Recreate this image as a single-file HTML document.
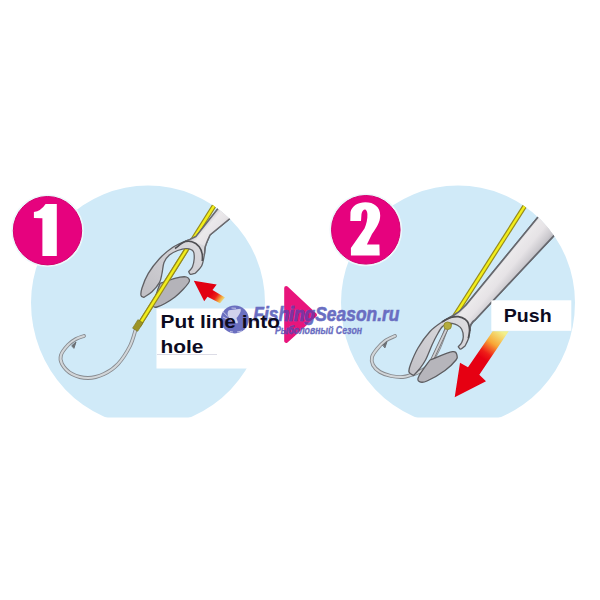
<!DOCTYPE html>
<html><head><meta charset="utf-8">
<style>
html,body{margin:0;padding:0;background:#fff;width:600px;height:600px;overflow:hidden}
svg{display:block}
text{font-family:"Liberation Sans",sans-serif}
</style></head>
<body>
<svg width="600" height="600" viewBox="0 0 600 600">
<defs>
  <clipPath id="c1"><path d="M31 302.5 A117 117 0 0 1 265 302.5 A117 123 0 0 1 31 302.5 Z"/></clipPath>
  <clipPath id="bot"><rect x="0" y="0" width="600" height="417.6"/></clipPath>
  <clipPath id="tri2"><path d="M284.2 286 L317.5 315 L284.2 344 Z"/></clipPath>
  <clipPath id="c2"><path d="M341 302.5 A117 117 0 0 1 575 302.5 A117 123 0 0 1 341 302.5 Z"/></clipPath>
  <linearGradient id="arr1" x1="224" y1="302" x2="212" y2="293" gradientUnits="userSpaceOnUse">
    <stop offset="0" stop-color="#e2f0a0" stop-opacity="0.7"/>
    <stop offset="0.3" stop-color="#f5b040"/>
    <stop offset="0.65" stop-color="#ec2018"/>
    <stop offset="1" stop-color="#e20012"/>
  </linearGradient>
  <linearGradient id="arr2" x1="501" y1="331" x2="482" y2="358" gradientUnits="userSpaceOnUse">
    <stop offset="0" stop-color="#f2f08c"/>
    <stop offset="0.45" stop-color="#f8a735"/>
    <stop offset="0.8" stop-color="#ee1e18"/>
    <stop offset="1" stop-color="#e60012"/>
  </linearGradient>
  <linearGradient id="shaft1" x1="212" y1="214" x2="232" y2="231" gradientUnits="userSpaceOnUse">
    <stop offset="0" stop-color="#c8c6cc"/>
    <stop offset="0.2" stop-color="#ebe9eb"/>
    <stop offset="0.5" stop-color="#e6e3e6"/>
    <stop offset="0.8" stop-color="#cbc9ce"/>
    <stop offset="1" stop-color="#a8a8ae"/>
  </linearGradient>
  <linearGradient id="shaft2" x1="493" y1="266" x2="516" y2="285" gradientUnits="userSpaceOnUse">
    <stop offset="0" stop-color="#c8c6cc"/>
    <stop offset="0.2" stop-color="#ebe9eb"/>
    <stop offset="0.5" stop-color="#e6e3e6"/>
    <stop offset="0.8" stop-color="#cbc9ce"/>
    <stop offset="1" stop-color="#a8a8ae"/>
  </linearGradient>
  <linearGradient id="head1" x1="195" y1="245" x2="150" y2="295" gradientUnits="userSpaceOnUse">
    <stop offset="0" stop-color="#d9d8dc"/>
    <stop offset="1" stop-color="#c2c1c6"/>
  </linearGradient>
  <linearGradient id="head2" x1="462" y1="320" x2="412" y2="372" gradientUnits="userSpaceOnUse">
    <stop offset="0" stop-color="#dcdbdf"/>
    <stop offset="1" stop-color="#c4c3c8"/>
  </linearGradient>
</defs>

<!-- big circles -->
<g clip-path="url(#bot)">
<path d="M31 302.5 A117 117 0 0 1 265 302.5 A117 123 0 0 1 31 302.5 Z" fill="#d0eaf8"/>
<path d="M341 302.5 A117 117 0 0 1 575 302.5 A117 123 0 0 1 341 302.5 Z" fill="#d0eaf8"/>
</g>

<!-- badges -->
<circle cx="47.5" cy="230.7" r="36.3" fill="#eef7fb"/>
<circle cx="47.5" cy="230.7" r="34.2" fill="#e6027e" stroke="#d4006f" stroke-width="1"/>
<path d="M45.6 204 L56.8 204 L56.8 256.1 L42.4 256.1 L42.4 218.3 L33.9 218 L33.9 212 Q41 211 45.6 204 Z" fill="#fff"/>
<circle cx="365.8" cy="229.8" r="36.4" fill="#eef7fb"/>
<circle cx="365.8" cy="229.8" r="34.3" fill="#e6027e" stroke="#d4006f" stroke-width="1"/>
<path d="M350.3 220.9 L350.5 212 C352 206 358 202.3 365.3 202.3 C374 202.3 380.2 207 380.2 215.5 C380.2 222 377 227 372 234 L366.9 244.6 L379.4 244.6 L379.7 255.6 L350.9 255.6 L350.9 248 L364.5 228.5 C366.5 224 367.6 219 367.4 214 C367.2 211 366 209.5 365 209.5 C363.5 209.5 362 211 361.5 214 L361 220.9 Z" fill="#fff"/>

<!-- pink arrow between -->
<path d="M286.2 288 L315 315 L286.2 341 Z" fill="#e8157c" stroke="#e8157c" stroke-width="4" stroke-linejoin="round"/>

<!-- ===== Circle 1 scene ===== -->
<g clip-path="url(#c1)">
<!-- hook 1 -->
<g fill="none" stroke-linecap="round" stroke-linejoin="round">
<path id="h1" d="M135.5 330.0 C134.6 332.7 132.9 340.3 130.0 346.0 C127.1 351.7 122.3 359.3 118.0 364.0 C113.7 368.7 109.0 371.7 104.0 374.0 C99.0 376.3 93.3 378.0 88.0 378.0 C82.7 378.0 76.3 376.3 72.0 374.0 C67.7 371.7 63.8 367.2 62.0 364.0 C60.2 360.8 60.0 358.2 61.0 355.0 C62.0 351.8 65.5 347.7 68.0 345.0 C70.5 342.3 73.3 340.5 76.0 339.0 C78.7 337.5 82.7 336.5 84.0 336.0" stroke="#878b90" stroke-width="3.8"/>
<path d="M135.5 330.0 C134.6 332.7 132.9 340.3 130.0 346.0 C127.1 351.7 122.3 359.3 118.0 364.0 C113.7 368.7 109.0 371.7 104.0 374.0 C99.0 376.3 93.3 378.0 88.0 378.0 C82.7 378.0 76.3 376.3 72.0 374.0 C67.7 371.7 63.8 367.2 62.0 364.0 C60.2 360.8 60.0 358.2 61.0 355.0 C62.0 351.8 65.5 347.7 68.0 345.0 C70.5 342.3 73.3 340.5 76.0 339.0 C78.7 337.5 82.7 336.5 84.0 336.0" stroke="#d2d6d9" stroke-width="2"/>
<path d="M72 345.5 L76 342 L74 348 Z" fill="#6a6e72" stroke="#6a6e72" stroke-width="1"/>
</g>
<!-- line 1 -->
<line x1="224" y1="190" x2="138.5" y2="326" stroke="#968a1c" stroke-width="4.8"/>
<line x1="224" y1="190" x2="138.5" y2="326" stroke="#f2ee1a" stroke-width="2.4"/>
<!-- tool 1 body -->
<path d="M230.3 193.0 C224.6 200.3 201.6 229.4 195.8 236.7 L195.8 236.7 C194.8 237.2 191.8 238.7 190.0 239.5 C188.2 240.3 188.0 239.9 185.0 241.3 C182.0 242.7 176.5 244.8 172.2 247.7 C167.9 250.6 163.4 254.4 159.4 258.7 C155.4 263.0 151.2 268.5 148.3 273.4 C145.4 278.3 143.2 284.3 142.0 288.0 C140.8 291.7 140.7 293.8 141.0 295.4 C141.3 297.0 143.3 297.1 143.8 297.4 L143.8 297.4 C145.2 296.4 149.4 294.2 152.0 291.7 C154.6 289.2 157.7 285.7 159.4 282.6 C161.1 279.6 161.2 276.8 162.0 273.4 C162.8 270.0 162.8 265.5 164.0 262.4 C165.2 259.3 167.1 257.0 169.4 255.0 C171.7 253.0 174.8 251.6 177.7 250.5 C180.6 249.4 184.3 248.4 186.9 248.6 C189.5 248.8 192.1 249.7 193.3 251.4 C194.5 253.1 194.3 256.1 194.2 258.7 C194.0 261.3 193.3 264.9 192.4 267.0 C191.5 269.1 189.3 270.8 188.7 271.6 L188.7 271.6 C189.0 272.1 189.4 274.0 190.5 274.3 C191.6 274.6 194.2 273.5 195.0 273.4 L195.0 273.4 C196.1 272.2 200.0 269.1 201.6 266.0 C203.2 262.9 203.7 258.3 204.3 255.0 C205.0 251.7 204.6 249.3 205.5 246.0 C206.4 242.7 209.2 236.8 210.0 235.0 L210.0 235.0 C217.1 229.2 245.4 205.8 252.5 200.0 Z"
 fill="url(#head1)" stroke="#606064" stroke-width="1.3" stroke-linejoin="round"/>
<path d="M230.3 193 L195.8 236.7 C192 238.8 188 240.3 185.5 241.3 C191 241.3 196 242.5 205.6 246 C206.4 242.7 209.2 236.8 210 235 L252.5 200 Z" fill="url(#shaft1)"/>
<path d="M230.3 193 L195.8 236.7 C193 238.2 189 240 185 241.3 M252.5 200 L210 235 C209.2 236.8 206.4 242.7 205.5 246 C204.6 249.3 205 251.7 204.3 255" fill="none" stroke="#6a6a6f" stroke-width="1.4"/>
<path d="M175 248.5 C178.5 246 182 242.5 185.5 241.6 C188 241 190 241 192 241.8 C195 242.6 197.2 244.3 199.2 246.7 C200.8 248.8 201.8 251.3 202.2 254 C202.5 256.5 202.5 259 202.2 261" fill="none" stroke="#4e4e52" stroke-width="1.6"/>
<!-- lower prong 1 -->
<path d="M160.0 283.5 C161.7 282.9 166.7 281.1 170.0 280.0 C173.3 278.9 177.2 277.7 180.0 277.2 C182.8 276.7 184.9 276.5 186.5 277.0 C188.1 277.5 189.2 279.0 189.5 280.0 C189.8 281.0 189.6 281.4 188.5 283.0 C187.4 284.6 185.2 287.2 183.0 289.5 C180.8 291.8 178.0 294.7 175.0 297.0 C172.0 299.3 168.0 301.8 165.0 303.5 C162.0 305.2 158.9 306.5 157.0 307.0 C155.1 307.5 154.0 307.3 153.5 306.5 C153.0 305.7 153.4 304.4 154.0 302.0 C154.6 299.6 156.0 295.1 157.0 292.0 C158.0 288.9 159.5 284.9 160.0 283.5 Z"
 fill="#b4b3b9" stroke="#5c5c60" stroke-width="1.3" stroke-linejoin="round"/>
<line x1="186.4" y1="249.8" x2="138.5" y2="326" stroke="#968a1c" stroke-width="4.8"/>
<line x1="186.4" y1="249.8" x2="138.5" y2="326" stroke="#f2ee1a" stroke-width="2.4"/>
<rect x="134.8" y="320.5" width="6" height="10" fill="#9c9426" stroke="#7c7620" stroke-width="0.6" transform="rotate(32 137.8 325.5)"/>
<!-- arrow 1 -->
<path d="M193.8 280.8 L216.7 284.6 L212.5 290 L225 297.5 L220 303.3 L207.5 296.7 L204.2 301.3 Z" fill="url(#arr1)"/>
</g>

<!-- text box 1 -->
<rect x="156.5" y="308.5" width="115" height="60" fill="#fff"/>
<line x1="157" y1="354.5" x2="217" y2="354.5" stroke="#dcdce6" stroke-width="1"/>

<!-- ===== Circle 2 scene ===== -->
<g clip-path="url(#c2)">
<!-- hook 2 -->
<g fill="none" stroke-linecap="round" stroke-linejoin="round">
<path id="h2" d="M447.0 327.0 C445.5 330.8 441.2 343.5 438.0 350.0 C434.8 356.5 431.2 362.3 428.0 366.0 C424.8 369.7 421.8 370.5 419.0 372.0 C416.2 373.5 413.7 374.2 411.0 375.0 C408.3 375.8 406.3 376.8 403.0 377.0 C399.7 377.2 394.8 376.8 391.0 376.0 C387.2 375.2 383.0 373.8 380.0 372.0 C377.0 370.2 374.3 367.5 373.0 365.0 C371.7 362.5 371.3 359.7 372.0 357.0 C372.7 354.3 374.8 351.7 377.0 349.0 C379.2 346.3 382.0 343.2 385.0 341.0 C388.0 338.8 393.3 336.8 395.0 336.0" stroke="#878b90" stroke-width="3.8"/>
<path d="M447.0 327.0 C445.5 330.8 441.2 343.5 438.0 350.0 C434.8 356.5 431.2 362.3 428.0 366.0 C424.8 369.7 421.8 370.5 419.0 372.0 C416.2 373.5 413.7 374.2 411.0 375.0 C408.3 375.8 406.3 376.8 403.0 377.0 C399.7 377.2 394.8 376.8 391.0 376.0 C387.2 375.2 383.0 373.8 380.0 372.0 C377.0 370.2 374.3 367.5 373.0 365.0 C371.7 362.5 371.3 359.7 372.0 357.0 C372.7 354.3 374.8 351.7 377.0 349.0 C379.2 346.3 382.0 343.2 385.0 341.0 C388.0 338.8 393.3 336.8 395.0 336.0" stroke="#d2d6d9" stroke-width="2"/>
<path d="M383 345 L387 341.5 L385 347.5 Z" fill="#6a6e72" stroke="#6a6e72" stroke-width="1"/>
</g>
<!-- line 2 -->
<line x1="535" y1="190" x2="448.5" y2="325.5" stroke="#968a1c" stroke-width="4.8"/>
<line x1="535" y1="190" x2="448.5" y2="325.5" stroke="#f2ee1a" stroke-width="2.4"/>
<!-- tool 2 body -->
<path d="M552.0 200.0 C537.7 217.5 480.3 287.5 466.0 305.0 L466.0 305.0 C465.2 305.9 462.8 308.9 461.0 310.5 C459.2 312.1 457.9 312.8 455.0 314.5 C452.1 316.2 447.7 318.2 443.5 321.0 C439.3 323.8 434.2 327.0 430.0 331.5 C425.8 336.0 421.2 342.5 418.0 348.0 C414.8 353.5 412.0 360.5 410.5 364.5 C409.0 368.5 408.5 370.2 409.0 372.0 C409.5 373.8 412.8 374.9 413.5 375.5 L413.5 375.5 C414.5 374.4 417.5 371.6 419.5 369.0 C421.5 366.4 423.4 364.0 425.5 360.0 C427.6 356.0 430.1 349.2 432.0 345.0 C433.9 340.8 435.3 338.0 437.0 335.0 C438.7 332.0 440.3 328.9 442.0 327.0 C443.7 325.1 445.3 324.1 447.0 323.5 C448.7 322.9 450.2 323.0 452.0 323.3 C453.8 323.6 455.9 324.3 457.5 325.3 C459.1 326.3 460.7 327.3 461.7 329.2 C462.7 331.1 463.3 334.5 463.3 336.7 C463.3 338.9 462.5 340.8 461.7 342.5 C460.9 344.2 458.9 346.0 458.3 346.7 L458.3 346.7 C458.7 347.1 459.7 349.3 460.8 349.2 C461.9 349.1 464.3 346.5 465.0 346.0 L465.0 346.0 C465.6 344.8 467.5 341.5 468.3 339.0 C469.1 336.5 469.4 333.3 469.8 331.0 C470.2 328.7 470.1 326.8 471.0 325.0 C471.9 323.2 474.3 320.8 475.0 320.0 L475.0 320.0 C488.1 306.0 540.7 249.8 553.8 235.8 L553.8 235.8 C557.1 232.2 570.5 218.1 573.8 214.5 Z"
 fill="url(#head2)" stroke="#5e5e62" stroke-width="1.3" stroke-linejoin="round"/>
<path d="M552 200 L466 305 C462 309.5 458 313 452 316.5 C458 316 463.5 318.5 468.8 324 C470.5 322 473 320.8 475 320 L553.8 235.8 L573.8 214.5 Z" fill="url(#shaft2)"/>
<path d="M552 200 L466 305 C462 309.5 458 313 452 316.5 L443.5 321 M573.8 214.5 L553.8 235.8 L475 320 C473 321 471.5 322.5 470.5 325 C470 327 469.8 329 469.8 331" fill="none" stroke="#66686e" stroke-width="1.7"/>
<path d="M442 322 C445 320 448 318.3 450.8 317.5 C453.5 316.8 456 316.5 458.3 316.7 C461 317.2 463.2 318 465 319.2 C466.6 320.5 467.8 321.8 468.3 323.3 C469 325.5 469.5 327.5 469.6 330 C469.6 333 469 336 468.3 338.3" fill="none" stroke="#4e4e52" stroke-width="1.7"/>
<!-- hook shank strip -->
<path d="M448 326 L431 362" stroke="#707074" stroke-width="3.6" fill="none"/>
<path d="M448 326 L431 362" stroke="#cfcfd2" stroke-width="1.8" fill="none"/>
<!-- lower prong 2 -->
<path d="M430.0 360.0 C433.8 358.6 448.0 352.4 452.5 351.7 C457.0 350.9 456.4 354.1 457.0 355.5 C457.6 356.9 458.0 357.5 456.0 360.0 C454.0 362.5 449.8 367.0 445.0 370.5 C440.2 374.0 431.2 379.1 427.0 381.0 C422.8 382.9 420.9 382.4 419.5 381.7 C418.1 380.9 416.9 380.1 418.7 376.5 C420.4 372.9 428.1 362.8 430.0 360.0 Z"
 fill="#b6b5bb" stroke="#5c5c60" stroke-width="1.3" stroke-linejoin="round"/>
<circle cx="447.6" cy="325.8" r="3.8" fill="#b4ac3c" stroke="#8c8628" stroke-width="0.8"/>
<!-- arrow 2 -->
<path d="M492.7 331.3 L508.7 331.3 L479.3 374.7 L486 381.3 L454.7 397.3 L460 362.7 L468 367.3 Z" fill="url(#arr2)"/>
</g>

<!-- push box -->
<rect x="491.3" y="300.3" width="80" height="30.5" fill="#fff"/>
<g transform="translate(503.8 0) scale(1.12 1)">
<text x="0" y="322" font-size="17.5" font-weight="bold" fill="#0d0b1f">Push</text>
</g>

<!-- watermark -->
<g>
<circle cx="234.8" cy="319.4" r="14" fill="#6b6fc0"/>
<path d="M229 310.2 L240.5 308.8 C241.5 311 239.8 314.5 236.5 318 C236.8 320 238.3 321.5 237.8 323 C235.2 323.8 232.2 322 229.5 318.5 C227.5 315.5 226.8 312 229 310.2 Z" fill="#e2e3f3" opacity="0.85"/>
<path d="M222.5 311 C224 313 226 315 228 316.5 M223 317 L229 320 M231.5 308 L236 308.3 M230 331.5 L233 332 M237 332 L242 331" stroke="#dfe0f2" stroke-width="0.9" fill="none" opacity="0.8"/>
<g id="wmt">
<g transform="translate(253.3 0) scale(0.85 1)">
<text x="0" y="321.3" font-size="20.5" font-weight="bold" font-style="italic" fill="#6a6ec2" stroke="#6a6ec2" stroke-width="0.6">FishingSeason.ru</text>
</g>
<g transform="translate(275 0) scale(0.88 1)">
<text x="0" y="334.2" font-size="10" font-weight="bold" font-style="italic" fill="#6a6ec2" stroke="#6a6ec2" stroke-width="0.3">Рыболовный Сезон</text>
</g>
</g>
</g>
<g clip-path="url(#tri2)">
<g transform="translate(253.3 0) scale(0.85 1)">
<text x="0" y="321.3" font-size="20.5" font-weight="bold" font-style="italic" fill="#8030a0" stroke="#8030a0" stroke-width="0.6">FishingSeason.ru</text>
</g>
<g transform="translate(275 0) scale(0.88 1)">
<text x="0" y="334.2" font-size="10" font-weight="bold" font-style="italic" fill="#8030a0" stroke="#8030a0" stroke-width="0.3">Рыболовный Сезон</text>
</g>
</g>

<!-- text 1 on top -->
<g transform="translate(160.5 0) scale(1.16 1)">
<text x="0" y="328" font-size="18" font-weight="bold" fill="#0d0b1f">Put line into</text>
<text x="0" y="353" font-size="18" font-weight="bold" fill="#0d0b1f">hole</text>
</g>
</svg>
</body></html>
